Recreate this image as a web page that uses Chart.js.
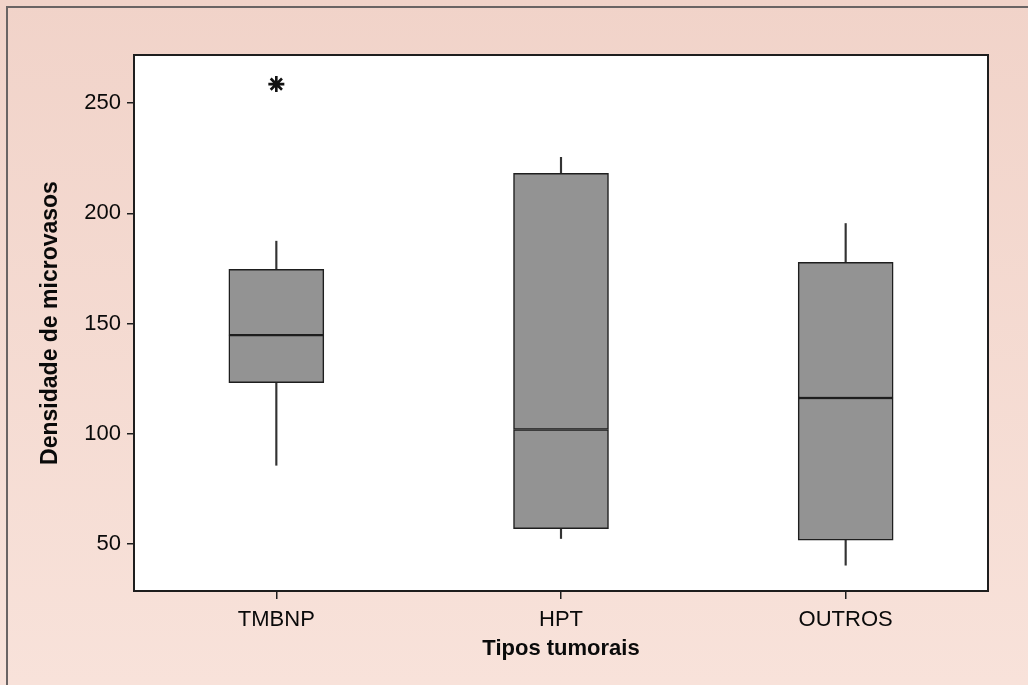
<!DOCTYPE html>
<html>
<head>
<meta charset="utf-8">
<script src="https://cdn.jsdelivr.net/npm/chart.js@4.4.1/dist/chart.umd.min.js"></script>
<style>
  html, body { margin: 0; padding: 0; background: #f4dbd2; }
  canvas { display: block; }
</style>
</head>
<body>
<canvas id="c" width="1028" height="685"></canvas>
<script>
// ---- data ----
const categories   = ['TMBNP', 'HPT', 'OUTROS'];
const whiskerLow   = [85.8, 52.6, 40.5];
const q1           = [123.2, 57.1, 51.8];
const median       = [144.8, 102.0, 116.3];
const q3           = [174.6, 218.1, 177.8];
const whiskerHigh  = [187.4, 225.4, 195.4];
const outliers     = [258.6, null, null];
const yTickValues  = [50, 100, 150, 200, 250];
const yTitle = 'Densidade de microvasos';
const xTitle = 'Tipos tumorais';

const FONT = "'Liberation Sans', Arial, Helvetica, sans-serif";
const BOX_FILL = '#939393';
const INK = '#1e1e1e';

const backdrop = {
  id: 'backdrop',
  beforeDraw(chart) {
    const { ctx, chartArea: a, width, height } = chart;
    ctx.save();
    const g = ctx.createLinearGradient(0, 0, 0, height);
    g.addColorStop(0, '#f1d3c9');
    g.addColorStop(1, '#f8e2da');
    ctx.fillStyle = g;
    ctx.fillRect(0, 0, width, height);
    // outer frame (left + top)
    ctx.strokeStyle = '#6a6464';
    ctx.lineWidth = 2;
    ctx.beginPath();
    ctx.moveTo(7, height);
    ctx.lineTo(7, 7);
    ctx.lineTo(width, 7);
    ctx.stroke();
    // plot area
    ctx.fillStyle = '#ffffff';
    ctx.fillRect(a.left, a.top, a.right - a.left, a.bottom - a.top);
    ctx.restore();
  },
  afterDraw(chart) {
    const { ctx, chartArea: a } = chart;
    ctx.save();
    ctx.strokeStyle = INK;
    ctx.lineWidth = 2;
    ctx.strokeRect(a.left, a.top, a.right - a.left, a.bottom - a.top);
    ctx.restore();
  }
};

const range = (lo, hi) => lo.map((v, i) => [v, hi[i]]);

new Chart(document.getElementById('c'), {
  type: 'bar',
  data: {
    labels: categories,
    datasets: [
      {
        label: 'outlier',
        type: 'line',
        data: outliers,
        showLine: false,
        pointStyle: 'star',
        pointRadius: 8,
        pointBorderWidth: 2.6,
        pointBorderColor: '#111',
        pointBackgroundColor: '#111',
        order: 0
      },
      {
        label: 'lower box',
        data: range(q1, median),
        backgroundColor: BOX_FILL,
        borderColor: INK,
        borderWidth: 1.5,
        borderSkipped: false,
        grouped: false,
        barThickness: 95,
        order: 1
      },
      {
        label: 'upper box',
        data: range(median, q3),
        backgroundColor: BOX_FILL,
        borderColor: INK,
        borderWidth: 1.5,
        borderSkipped: false,
        grouped: false,
        barThickness: 95,
        order: 1
      },
      {
        label: 'lower whisker',
        data: range(whiskerLow, q1),
        backgroundColor: '#333',
        borderWidth: 0,
        grouped: false,
        barThickness: 1.5,
        order: 2
      },
      {
        label: 'upper whisker',
        data: range(q3, whiskerHigh),
        backgroundColor: '#333',
        borderWidth: 0,
        grouped: false,
        barThickness: 1.5,
        order: 2
      }
    ]
  },
  options: {
    responsive: false,
    animation: false,
    devicePixelRatio: 1,
    layout: { padding: { top: 55, right: 40, left: 0, bottom: 0 } },
    plugins: { legend: { display: false }, tooltip: { enabled: false } },
    scales: {
      x: {
        offset: true,
        grid: { display: true, offset: false, drawOnChartArea: false, drawTicks: true, tickLength: 8, color: INK, lineWidth: 1.5 },
        border: { display: true, color: INK, width: 2 },
        ticks: { color: '#0a0a0a', font: { family: FONT, size: 22 }, padding: 8 },
        title: { display: true, text: xTitle, color: '#0a0a0a', font: { family: FONT, size: 22, weight: 'bold' }, padding: { top: 0, bottom: 23 } },
        afterFit(scale) { scale.height = 94; }
      },
      y: {
        min: 28.8,
        max: 271.8,
        afterBuildTicks(scale) { scale.ticks = yTickValues.map(v => ({ value: v })); },
        grid: { display: true, drawOnChartArea: false, drawTicks: true, tickLength: 7, color: INK, lineWidth: 1.5 },
        border: { display: true, color: INK, width: 2 },
        ticks: { color: '#0a0a0a', font: { family: FONT, size: 22 }, padding: 6 },
        title: { display: true, text: yTitle, color: '#0a0a0a', font: { family: FONT, size: 23, weight: 'bold' }, padding: { top: 37, bottom: 0 } },
        afterFit(scale) { scale.width = 134; }
      }
    }
  },
  plugins: [backdrop]
});
</script>
</body>
</html>
